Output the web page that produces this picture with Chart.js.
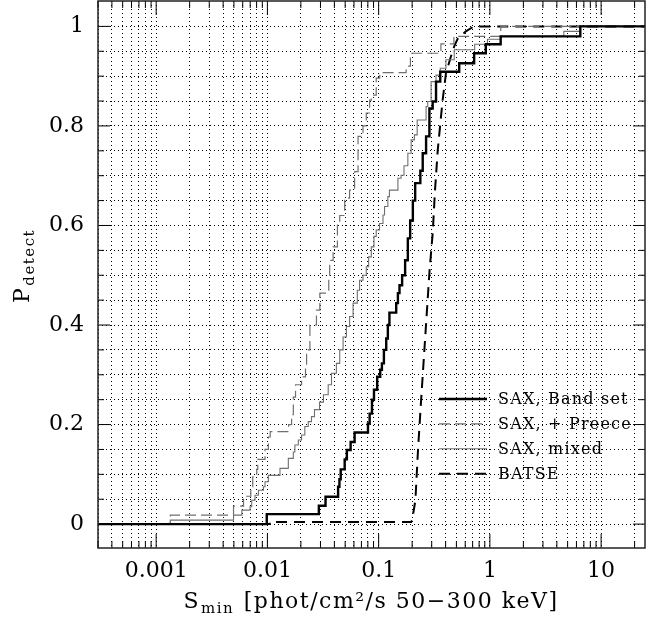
<!DOCTYPE html>
<html>
<head>
<meta charset="utf-8">
<script src="https://cdn.jsdelivr.net/npm/chart.js@4.4.1/dist/chart.umd.min.js"></script>
<style>
  html, body { margin: 0; padding: 0; background: #fff; }
  canvas { display: block; }
</style>
</head>
<body>
<canvas id="detectChart" width="654" height="617"></canvas>
<script>
(function() {
    'use strict';

    // Cumulative P_detect, one step per burst: value jumps to Y at X
    const bandX = [0.0003, 0.00987, 0.029, 0.0333, 0.0432, 0.0444, 0.0456, 0.0495, 0.0518, 0.056, 0.0608,
        0.0802, 0.083, 0.0871, 0.0908, 0.097, 0.1033, 0.107, 0.1115, 0.117, 0.121, 0.125, 0.1438, 0.149,
        0.154, 0.1626, 0.173, 0.183, 0.192, 0.203, 0.213, 0.237, 0.249, 0.267, 0.286, 0.306, 0.328, 0.358,
        0.53, 0.722, 0.919, 1.25, 6.5, 30];
    const bandY = [0, 0.02, 0.037, 0.055, 0.075, 0.09, 0.11, 0.13, 0.149, 0.165, 0.184,
        0.202, 0.222, 0.25, 0.27, 0.296, 0.31, 0.323, 0.35, 0.373, 0.40, 0.425, 0.444, 0.464,
        0.48, 0.50, 0.53, 0.574, 0.61, 0.65, 0.685, 0.71, 0.745, 0.779, 0.835, 0.849, 0.889, 0.909,
        0.926, 0.946, 0.964, 0.98, 1.0, 1.0];

    const preeceX = [0.0003, 0.00134, 0.00496, 0.0061, 0.00709, 0.00738, 0.00802, 0.00819, 0.00952, 0.0102,
        0.0106, 0.0155, 0.0165, 0.0171, 0.0179, 0.0203, 0.022, 0.0225, 0.0241, 0.0276, 0.0296, 0.0356,
        0.0363, 0.039, 0.0426, 0.0447, 0.0495, 0.0548, 0.0608, 0.0653, 0.0723, 0.0774, 0.083, 0.0859,
        0.0951, 0.1023, 0.1766, 0.193, 0.363, 0.475, 1.253, 30];
    const preeceY = [0, 0.018, 0.036, 0.056, 0.075, 0.095, 0.11, 0.13, 0.15, 0.175,
        0.186, 0.20, 0.22, 0.255, 0.28, 0.296, 0.316, 0.35, 0.40, 0.43, 0.464, 0.497,
        0.53, 0.557, 0.604, 0.62, 0.655, 0.671, 0.708, 0.779, 0.80, 0.826, 0.852, 0.862,
        0.896, 0.907, 0.92, 0.946, 0.965, 0.98, 1.0, 1.0];

    const mixedX = [0.0003, 0.00134, 0.00496, 0.00589, 0.00698, 0.00723, 0.00774, 0.0083, 0.00921, 0.00952,
        0.0102, 0.01297, 0.01542, 0.0171, 0.01766, 0.01895, 0.0203, 0.0217, 0.0233, 0.0249, 0.0265, 0.0294,
        0.0319, 0.0352, 0.0377, 0.0417, 0.0447, 0.0479, 0.0513, 0.0548, 0.0589, 0.0643, 0.0674, 0.0723,
        0.0774, 0.0813, 0.0859, 0.0908, 0.0951, 0.1019, 0.1094, 0.113, 0.121, 0.125, 0.149, 0.159, 0.169,
        0.183, 0.196, 0.2096, 0.222, 0.267, 0.276, 0.296, 0.328, 0.358, 0.403, 0.478, 0.73, 0.951, 1.25,
        4.62, 6.5, 30];
    const mixedY = [0, 0.008, 0.018, 0.028, 0.035, 0.048, 0.058, 0.068, 0.075, 0.085,
        0.098, 0.112, 0.132, 0.145, 0.159, 0.169, 0.179, 0.196, 0.206, 0.216, 0.23, 0.245,
        0.26, 0.28, 0.303, 0.323, 0.35, 0.376, 0.397, 0.417, 0.444, 0.47, 0.49, 0.50,
        0.517, 0.537, 0.557, 0.578, 0.591, 0.604, 0.621, 0.638, 0.658, 0.671, 0.695, 0.701, 0.72,
        0.745, 0.772, 0.782, 0.812, 0.839, 0.849, 0.889, 0.902, 0.916, 0.933, 0.953, 0.964, 0.974, 0.98,
        0.99, 1.0, 1.0];

    // BATSE rises so fast that its steps merge into a slanted line
    const batseX = [0.0003, 0.0105, 0.0105, 0.196, 0.2, 0.214, 0.226, 0.241, 0.256, 0.272, 0.287,
        0.306, 0.321, 0.34, 0.376, 0.403, 0.447, 0.478, 0.513, 0.608, 0.718, 30];
    const batseY = [0, 0, 0.004, 0.004, 0.008, 0.048, 0.15, 0.25, 0.34, 0.43, 0.51,
        0.584, 0.67, 0.752, 0.852, 0.906, 0.94, 0.96, 0.975, 0.99, 1.0, 1.0];

    const seriesLabels = ['SAX, Band set', 'SAX, + Preece', 'SAX, mixed', 'BATSE'];

    const xTickValues = [0.001, 0.01, 0.1, 1, 10];
    const xTickLabels = ['0.001', '0.01', '0.1', '1', '10'];
    const yTickValues = [0, 0.2, 0.4, 0.6, 0.8, 1];
    const yTickLabels = ['0', '0.2', '0.4', '0.6', '0.8', '1'];

    const serif = '"DejaVu Serif", "Liberation Serif", serif';
    const gray = '#707070';

    const toPoints = (xs, ys) => xs.map((x, i) => ({ x: x, y: ys[i] }));

    const findLabel = (values, labels, v, logScale) => {
        const i = values.findIndex(t => logScale
            ? Math.abs(Math.log10(t) - Math.log10(v)) < 1e-6
            : Math.abs(t - v) < 1e-6);
        return i >= 0 ? labels[i] : '';
    };

    // Frame with inward ticks on all four sides
    const frameTicks = {
        id: 'frameTicks',
        afterDatasetsDraw(chart) {
            const { ctx, chartArea: a, scales: { x, y } } = chart;
            ctx.save();
            ctx.strokeStyle = '#000';
            ctx.lineWidth = 1;
            ctx.beginPath();
            x.ticks.forEach(t => {
                const px = x.getPixelForValue(t.value);
                const len = findLabel(xTickValues, xTickLabels, t.value, true) ? 14 : 7;
                ctx.moveTo(px, a.bottom); ctx.lineTo(px, a.bottom - len);
                ctx.moveTo(px, a.top); ctx.lineTo(px, a.top + len);
            });
            y.ticks.forEach(t => {
                const py = y.getPixelForValue(t.value);
                const len = findLabel(yTickValues, yTickLabels, t.value, false) ? 12 : 6;
                ctx.moveTo(a.left, py); ctx.lineTo(a.left + len, py);
                ctx.moveTo(a.right, py); ctx.lineTo(a.right - len, py);
            });
            ctx.stroke();
            ctx.lineWidth = 1.5;
            ctx.strokeStyle = '#222';
            ctx.strokeRect(a.left, a.top, a.right - a.left, a.bottom - a.top);
            ctx.restore();
        }
    };

    // Legend in the lower right of the plot, styles taken from the datasets
    const innerLegend = {
        id: 'innerLegend',
        afterDraw(chart) {
            const ctx = chart.ctx;
            const left = 439, right = 487, textX = 498, top = 399, step = 24.9;
            ctx.save();
            ctx.font = '16px ' + serif;
            if ('letterSpacing' in ctx) ctx.letterSpacing = '1.2px';
            ctx.textBaseline = 'middle';
            ctx.fillStyle = '#000';
            chart.data.datasets.forEach((ds, i) => {
                const yy = top + i * step;
                ctx.beginPath();
                ctx.strokeStyle = ds.borderColor;
                ctx.lineWidth = ds.borderWidth;
                ctx.setLineDash(ds.borderDash || []);
                ctx.moveTo(left, yy);
                ctx.lineTo(right, yy);
                ctx.stroke();
                ctx.fillText(ds.label, textX, yy + 1);
            });
            ctx.restore();
        }
    };

    // Axis titles with subscripts
    const axisTitles = {
        id: 'axisTitles',
        afterDraw(chart) {
            const { ctx, chartArea: a } = chart;
            ctx.save();
            ctx.fillStyle = '#000';
            ctx.textBaseline = 'alphabetic';
            if ('letterSpacing' in ctx) ctx.letterSpacing = '1.5px';

            const main = '22px ' + serif, sub = '15px ' + serif;
            const parts = [['S', main, 0], ['min', sub, 5], [' [phot/cm\u00b2/s 50\u2212300 keV]', main, 0]];
            let total = 0;
            parts.forEach(p => { ctx.font = p[1]; total += ctx.measureText(p[0]).width + 1; });
            let cx = (a.left + a.right) / 2 - total / 2;
            parts.forEach(p => {
                ctx.font = p[1];
                ctx.fillText(p[0], cx, 608 + p[2]);
                cx += ctx.measureText(p[0]).width + 1;
            });

            ctx.translate(29, 303);
            ctx.rotate(-Math.PI / 2);
            ctx.font = main;
            ctx.fillText('P', 0, 0);
            const w = ctx.measureText('P').width + 1;
            ctx.font = sub;
            ctx.fillText('detect', w, 5);
            ctx.restore();
        }
    };

    const ctx = document.getElementById('detectChart');
    new Chart(ctx, {
        type: 'line',
        data: {
            datasets: [
                {
                    label: seriesLabels[0], data: toPoints(bandX, bandY),
                    borderColor: '#000', borderWidth: 2.4, stepped: true
                },
                {
                    label: seriesLabels[1], data: toPoints(preeceX, preeceY),
                    borderColor: gray, borderWidth: 1.2, borderDash: [11, 5], stepped: true
                },
                {
                    label: seriesLabels[2], data: toPoints(mixedX, mixedY),
                    borderColor: gray, borderWidth: 1.1, stepped: true
                },
                {
                    label: seriesLabels[3], data: toPoints(batseX, batseY),
                    borderColor: '#000', borderWidth: 2, borderDash: [11, 7]
                }
            ]
        },
        options: {
            responsive: false,
            animation: false,
            events: [],
            layout: { padding: { left: 0, right: 9, top: 1, bottom: 0 } },
            elements: {
                point: { radius: 0 },
                line: { fill: false, tension: 0, borderJoinStyle: 'miter', borderCapStyle: 'butt' }
            },
            plugins: {
                legend: { display: false },
                tooltip: { enabled: false },
                title: { display: false }
            },
            scales: {
                x: {
                    type: 'logarithmic',
                    min: 3.13e-4,
                    max: 24.8,
                    afterBuildTicks: (scale) => {
                        const ticks = [];
                        for (let e = -4; e <= 1; e++) {
                            for (let m = 1; m <= 9; m++) {
                                const v = m * Math.pow(10, e);
                                if (v >= scale.min && v <= scale.max) ticks.push({ value: v });
                            }
                        }
                        scale.ticks = ticks;
                    },
                    afterFit: (scale) => {
                        scale.height = 69;
                        scale.paddingLeft = 0;
                        scale.paddingRight = 0;
                    },
                    grid: { color: '#000', lineWidth: 1, drawTicks: false },
                    border: { display: false, dash: [1, 3] },
                    ticks: {
                        autoSkip: false,
                        maxRotation: 0,
                        padding: 10,
                        color: '#000',
                        font: { family: serif, size: 22 },
                        callback: (v) => findLabel(xTickValues, xTickLabels, v, true)
                    }
                },
                y: {
                    type: 'linear',
                    min: -0.048,
                    max: 1.051,
                    afterBuildTicks: (scale) => {
                        const ticks = [];
                        for (let k = 0; k <= 20; k++) ticks.push({ value: Math.round(k * 5) / 100 });
                        scale.ticks = ticks;
                    },
                    afterFit: (scale) => {
                        scale.width = 98;
                        scale.paddingTop = 0;
                        scale.paddingBottom = 0;
                    },
                    grid: { color: '#000', lineWidth: 1, drawTicks: false },
                    border: { display: false, dash: [1, 3] },
                    ticks: {
                        autoSkip: false,
                        padding: 14,
                        color: '#000',
                        font: { family: serif, size: 22 },
                        callback: (v) => findLabel(yTickValues, yTickLabels, v, false)
                    }
                }
            }
        },
        plugins: [frameTicks, innerLegend, axisTitles]
    });
})();
</script>
</body>
</html>
